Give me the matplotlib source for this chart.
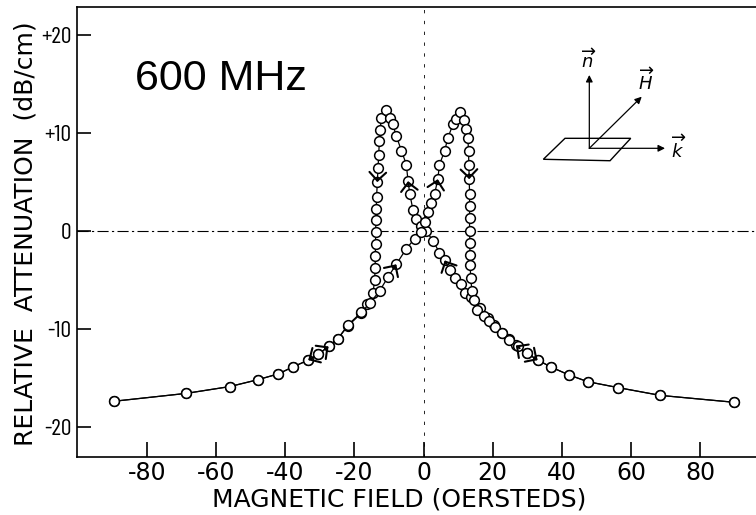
import numpy as np
import matplotlib.pyplot as plt
from matplotlib import font_manager
from matplotlib.patches import Polygon

plt.rcParams['font.family'] = ['DejaVu Sans']
plt.rcParams['axes.unicode_minus'] = False

# narrow digits for the y tick labels, if a condensed face is around
try:
    font_manager.findfont('Barlow Condensed', fallback_to_default=False)
    NARROW = 'Barlow Condensed'
    NARROW_SIZE = 17
except ValueError:
    NARROW = 'DejaVu Sans'
    NARROW_SIZE = 12

# sweep with increasing field (peak near +10 Oe)
field_up = [-89.6, -68.8, -56.1, -48.0, -42.0, -37.9, -33.4, -30.5, -27.5, -24.8,
            -21.9, -18.0, -15.6, -12.7, -10.3, -7.9, -5.0, -2.6, -0.7, 0.3,
            1.3, 2.2, 3.2, 4.1, 4.6, 6.1, 7.0, 8.5, 9.4, 10.4,
            11.8, 12.3, 12.8, 13.0, 13.1, 13.2, 13.3, 13.3, 13.3, 13.3,
            13.4, 13.4, 13.5, 13.6, 14.0, 14.5, 15.5, 17.5, 19.0, 20.8,
            22.7, 24.8, 27.2, 30.0, 33.0, 36.9, 42.0, 47.5, 56.2, 68.5, 89.7]
atten_up = [-17.4, -16.6, -15.9, -15.2, -14.6, -13.9, -13.2, -12.6, -11.8, -11.0,
            -9.6, -8.3, -7.4, -6.1, -4.7, -3.4, -1.8, -0.8, -0.1, 0.9,
            1.9, 2.9, 3.8, 5.3, 6.8, 8.2, 9.5, 10.9, 11.5, 12.2,
            11.4, 10.4, 9.5, 8.2, 6.7, 5.3, 3.8, 2.6, 1.3, 0.0,
            -1.2, -2.4, -3.5, -4.8, -6.1, -7.1, -8.1, -8.7, -9.2, -9.8,
            -10.4, -11.1, -11.8, -12.5, -13.2, -13.9, -14.7, -15.4, -16.0, -16.8, -17.5]

# sweep with decreasing field (peak near -10 Oe), listed left to right
field_down = [-89.6, -68.8, -56.1, -48.0, -42.0, -37.9, -33.4, -30.5, -27.5, -24.8,
              -21.9, -18.0, -16.3, -14.6, -14.2, -14.0, -14.0, -13.9, -13.9, -13.8,
              -13.7, -13.6, -13.4, -13.2, -13.0, -12.8, -12.6, -12.2, -10.8, -9.6,
              -8.9, -7.9, -6.4, -5.0, -4.5, -4.0, -3.1, -2.1, -0.7, 0.8,
              2.7, 4.6, 6.1, 7.5, 9.2, 10.9, 12.0, 13.8, 16.2, 18.6,
              20.5, 22.7, 24.6, 26.7, 29.8, 33.2, 36.8, 42.0, 47.5, 56.2, 68.5, 89.7]
atten_down = [-17.4, -16.6, -15.9, -15.2, -14.6, -13.9, -13.2, -12.6, -11.8, -11.0,
              -9.7, -8.4, -7.5, -6.3, -5.0, -3.8, -2.6, -1.3, -0.1, 1.1,
              2.3, 3.5, 5.0, 6.4, 7.8, 9.2, 10.3, 11.6, 12.4, 11.6,
              10.9, 9.7, 8.2, 6.8, 5.1, 3.8, 2.2, 1.2, 0.5, 0.0,
              -1.0, -2.2, -3.0, -4.0, -4.8, -5.4, -6.3, -6.7, -7.9, -8.9,
              -9.6, -10.4, -11.0, -11.7, -12.5, -13.2, -13.9, -14.7, -15.4, -16.0, -16.8, -17.5]

# points carrying a sweep-direction arrow
arrows_up = [8, 15, 23, 35, 54]
arrows_down = [6, 22, 34, 42, 53]

xticks = [-80, -60, -40, -20, 0, 20, 40, 60, 80]
xtick_labels = ['-80', '-60', '-40', '-20', '0', '20', '40', '60', '80']
yticks = [-20, -10, 0, 10, 20]
ytick_labels = ['-20', '-10', '0', '+10', '+20']


def add_arrows(ax, xs, ys, idx, step):
    # open chevron at point i, pointing along the sweep direction
    for i in idx:
        j = i - step
        x0 = xs[i] + 0.35 * (xs[j] - xs[i])
        y0 = ys[i] + 0.35 * (ys[j] - ys[i])
        ax.annotate('', xy=(xs[i], ys[i]), xytext=(x0, y0),
                    arrowprops=dict(arrowstyle='->,head_length=0.4,head_width=0.4',
                                    lw=1.5, color='k', shrinkA=0, shrinkB=0,
                                    mutation_scale=15),
                    zorder=5)


fig = plt.figure(figsize=(7.56, 5.15), dpi=100)
ax = fig.add_axes([0.1019, 0.1126, 0.8981, 0.8738])

ax.axhline(0, color='k', lw=0.8, ls=(0, (10, 3, 2, 3)), zorder=1)
ax.axvline(0, color='k', lw=0.6, ls=(0, (4, 9)), zorder=1)

style = dict(color='k', lw=0.9, marker='o', ms=7, mfc='white', mec='k', mew=1.1, zorder=3)
ax.plot(field_down, atten_down, **style)
ax.plot(field_up, atten_up, **style)

add_arrows(ax, field_up, atten_up, arrows_up, 1)
add_arrows(ax, field_down, atten_down, arrows_down, -1)

ax.set_xlim(-100.3, 96.2)
ax.set_ylim(-23.1, 22.9)
ax.set_xticks(xticks)
ax.set_xticklabels(xtick_labels)
ax.set_yticks(yticks)
ax.set_yticklabels(ytick_labels, family=NARROW, fontsize=NARROW_SIZE)
ax.tick_params(axis='x', direction='in', length=11, width=1.2, labelsize=17, pad=3)
ax.tick_params(axis='y', direction='in', length=10, width=1.2, pad=4)
ax.spines['right'].set_visible(False)
for s in ['left', 'bottom', 'top']:
    ax.spines[s].set_linewidth(1.2)

ax.set_xlabel('MAGNETIC FIELD (OERSTEDS)', fontsize=18)
ax.xaxis.set_label_coords(0.474, -0.068)
ax.set_ylabel('RELATIVE  ATTENUATION  (dB/cm)', fontsize=18)
ax.yaxis.set_label_coords(-0.058, 0.496)

ax.text(0.0854, 0.8156, '600 MHz', transform=ax.transAxes, fontsize=31,
        family='Liberation Sans', va='baseline')

# geometry sketch: surface normal n, field H, wave vector k
origin = (0.7545, 0.686)
plane = Polygon([(0.6868, 0.6616), (0.7187, 0.7082), (0.8155, 0.7082), (0.785, 0.6584)],
                closed=True, fill=False, lw=1.0, ec='k', transform=ax.transAxes)
ax.add_patch(plane)
for tip in [(0.7545, 0.849), (0.8317, 0.8007), (0.866, 0.686)]:
    ax.annotate('', xy=tip, xytext=origin, xycoords='axes fraction',
                arrowprops=dict(arrowstyle='-|>', lw=0.9, color='k',
                                shrinkA=0, shrinkB=0, mutation_scale=10))
ax.text(0.7541, 0.882, r'$\overrightarrow{n}$', transform=ax.transAxes,
        fontsize=13, ha='center', va='center')
ax.text(0.839, 0.836, r'$\overrightarrow{H}$', transform=ax.transAxes,
        fontsize=13, ha='center', va='center')
ax.text(0.886, 0.686, r'$\overrightarrow{k}$', transform=ax.transAxes,
        fontsize=13, ha='center', va='center')

fig.savefig('out.png', dpi=100)
